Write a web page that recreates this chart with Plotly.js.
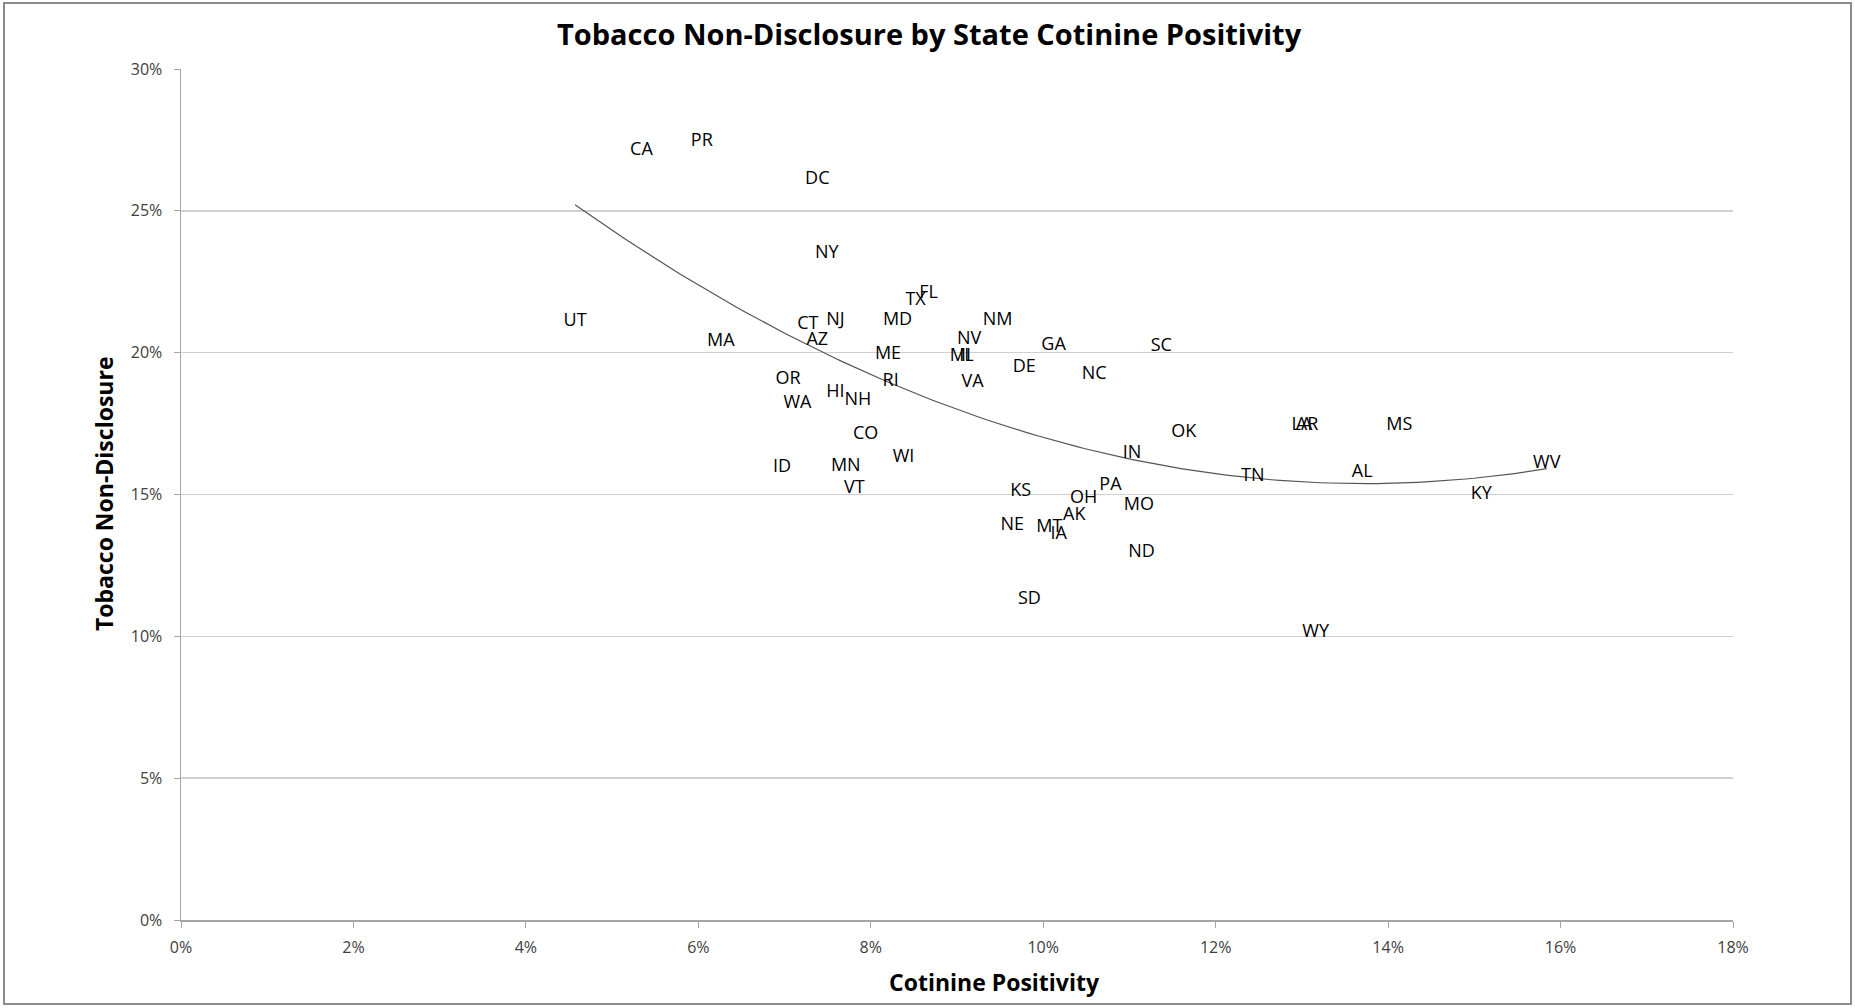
<!DOCTYPE html>
<html>
<head>
<meta charset="utf-8">
<script src="https://cdn.plot.ly/plotly-3.0.1.min.js"></script>
<style>
html,body{margin:0;padding:0;background:#fff;}
#chart{width:1855px;height:1008px;}
</style>
</head>
<body>
<div id="chart"></div>
<script>
// State labels
const states = ["CA","PR","DC","NY","UT","MA","CT","NJ","AZ","TX","FL","MD","NM","NV","MI","IL","ME","GA","DE","SC","NC","OR","RI","VA","HI","NH","WA","CO","OK","LA","AR","MS","IN","WI","ID","MN","AL","WV","TN","VT","PA","KS","KY","OH","MO","AK","NE","MT","IA","ND","SD","WY"];
// Cotinine positivity (fraction)
const cotinine = [0.0534,0.0604,0.0738,0.0749,0.0457,0.0626,0.0727,0.0759,0.0738,0.0852,0.0867,0.0831,0.0947,0.0914,0.0904,0.0911,0.0820,0.1012,0.0978,0.1137,0.1059,0.0704,0.0823,0.0918,0.0759,0.0785,0.0715,0.0794,0.1163,0.1300,0.1306,0.1413,0.1103,0.0838,0.0697,0.0771,0.1370,0.1584,0.1243,0.0781,0.1078,0.0974,0.1508,0.1047,0.1111,0.1036,0.0964,0.1007,0.1018,0.1114,0.0984,0.1316];
// Tobacco non-disclosure (fraction)
const nondisclosure = [0.2714,0.2744,0.2610,0.2350,0.2110,0.2040,0.2100,0.2114,0.2044,0.2184,0.2210,0.2114,0.2114,0.2047,0.1985,0.1985,0.1994,0.2027,0.1946,0.2022,0.1922,0.1906,0.1900,0.1896,0.1860,0.1830,0.1822,0.1713,0.1718,0.1743,0.1743,0.1743,0.1646,0.1630,0.1596,0.1600,0.1576,0.1610,0.1563,0.1522,0.1530,0.1510,0.1500,0.1485,0.1460,0.1425,0.1392,0.1385,0.1360,0.1296,0.1130,0.1014];

const xTickVals = [0,0.02,0.04,0.06,0.08,0.10,0.12,0.14,0.16,0.18];
const xTickText = ["0%","2%","4%","6%","8%","10%","12%","14%","16%","18%"];
const yTickVals = [0,0.05,0.10,0.15,0.20,0.25,0.30];
const yTickText = ["0%","5%","10%","15%","20%","25%","30%"];

// Order-2 polynomial least-squares trendline computed from the data
function quadFit(xs, ys){
  let n=xs.length,S=[0,0,0,0,0],T=[0,0,0];
  for(let i=0;i<n;i++){let x=xs[i],y=ys[i];let p=1;for(let k=0;k<5;k++){S[k]+=p;if(k<3)T[k]+=p*y;p*=x;}}
  const A=[[S[0],S[1],S[2],T[0]],[S[1],S[2],S[3],T[1]],[S[2],S[3],S[4],T[2]]];
  for(let i=0;i<3;i++){let piv=A[i][i];for(let j=i;j<4;j++)A[i][j]/=piv;for(let r=0;r<3;r++){if(r!==i){let f=A[r][i];for(let j=i;j<4;j++)A[r][j]-=f*A[i][j];}}}
  return [A[0][3],A[1][3],A[2][3]];
}
const c = quadFit(cotinine, nondisclosure);
const xmin = Math.min(...cotinine), xmax = Math.max(...cotinine);
const trendX = [], trendY = [];
for(let i=0;i<=120;i++){const x=xmin+(xmax-xmin)*i/120;trendX.push(x);trendY.push(c[0]+c[1]*x+c[2]*x*x);}

const F = "'Open Sans', 'Noto Sans', sans-serif";
const traces = [
  {x: trendX, y: trendY, mode:'lines', line:{color:'#555', width:1.2}, hoverinfo:'skip', showlegend:false},
  {x: cotinine, y: nondisclosure, mode:'text', text: states, textposition:'middle center',
   textfont:{family:F, size:18, color:'#000'}, showlegend:false, hoverinfo:'text'}
];

const W=1855,H=1008,L=181,R=122,T=69,B=88;
const pw=W-L-R, ph=H-T-B;
const layout = {
  width:W, height:H,
  margin:{l:L,r:R,t:T,b:B,pad:0},
  paper_bgcolor:'#fff', plot_bgcolor:'#fff',
  showlegend:false,
  xaxis:{range:[0,0.18], tickvals:xTickVals, ticktext:xTickText, showgrid:false, zeroline:false,
    showline:true, linecolor:'#a6a6a6', linewidth:1.5, ticks:'outside', ticklen:6, tickcolor:'#a6a6a6',
    ticklabelstandoff:6,
    tickfont:{family:F, size:16, color:'#404040'}, fixedrange:true},
  yaxis:{range:[0,0.30], tickvals:yTickVals, ticktext:yTickText, showgrid:true, gridcolor:'#d0d0d0', gridwidth:1.5,
    zeroline:false, showline:true, linecolor:'#a6a6a6', linewidth:1.5, ticks:'outside', ticklen:6, tickcolor:'#a6a6a6',
    ticklabelstandoff:8,
    tickfont:{family:F, size:16, color:'#404040'}, fixedrange:true},
  annotations:[
    {text:'<b>Tobacco Non-Disclosure by State Cotinine Positivity</b>', xref:'paper', yref:'paper',
     x:(929-L)/pw, y:(H-B-34)/ph, xanchor:'center', yanchor:'middle', showarrow:false,
     font:{family:F, size:29, color:'#000'}},
    {text:'<b>Cotinine Positivity</b>', xref:'paper', yref:'paper',
     x:(994-L)/pw, y:(H-B-982)/ph, xanchor:'center', yanchor:'middle', showarrow:false,
     font:{family:F, size:23, color:'#000'}},
    {text:'<b>Tobacco Non-Disclosure</b>', xref:'paper', yref:'paper', textangle:-90,
     x:(104-L)/pw, y:(H-B-494)/ph, xanchor:'center', yanchor:'middle', showarrow:false,
     font:{family:F, size:23, color:'#000'}}
  ],
  shapes:[
    {type:'rect', xref:'paper', yref:'paper', x0:(4-L)/pw, x1:(1851-L)/pw, y0:(H-B-1004)/ph, y1:(H-B-3)/ph,
     line:{color:'#8c8c8c', width:2}, fillcolor:'rgba(0,0,0,0)', layer:'below'}
  ]
};
Plotly.newPlot('chart', traces, layout, {displayModeBar:false, staticPlot:true});
</script>
</body>
</html>
